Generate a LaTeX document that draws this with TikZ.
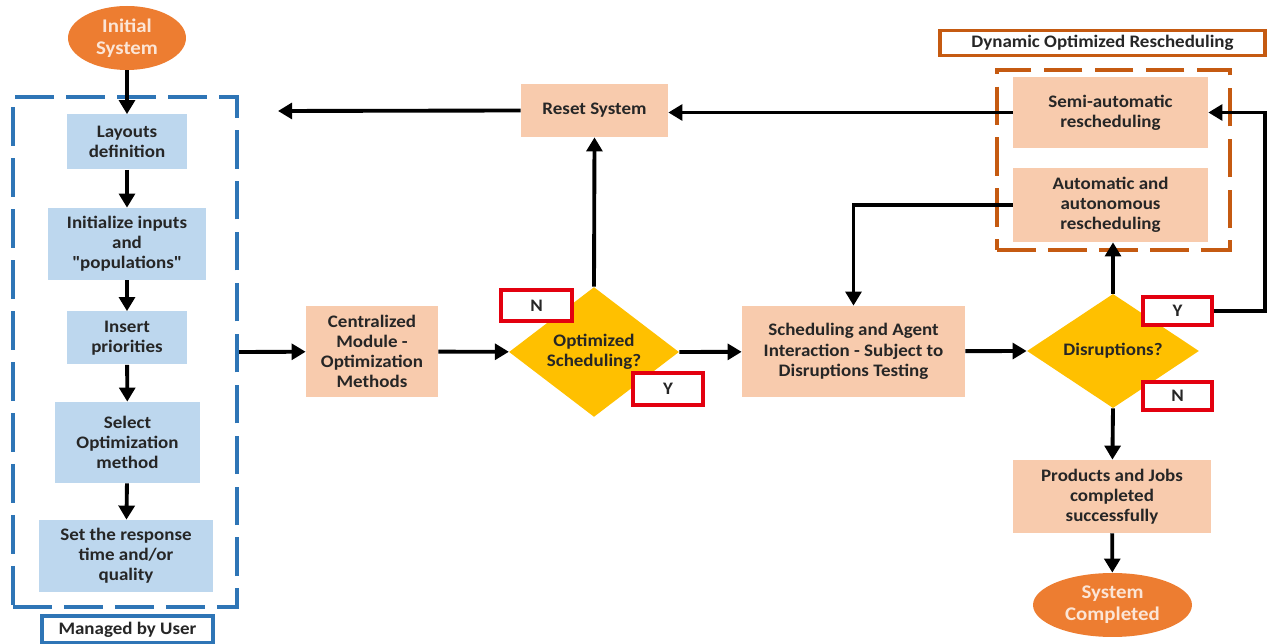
\documentclass[tikz,border=0pt]{standalone}
\usepackage{fontspec}
\setmainfont[FakeStretch=1.08]{Carlito}
\usepackage{tikz}
\usetikzlibrary{arrows.meta,shapes.geometric,positioning}

\definecolor{userfill}{HTML}{BDD7EE}
\definecolor{userline}{HTML}{2E75B6}
\definecolor{peach}{HTML}{F8CBAD}
\definecolor{gold}{HTML}{FFC000}
\definecolor{endfill}{HTML}{ED7D31}
\definecolor{endtext}{HTML}{FBE5D6}
\definecolor{rescline}{HTML}{C55A11}
\definecolor{answerline}{HTML}{E3000F}
\definecolor{textdark}{HTML}{262626}

\tikzset{
    every node/.style={
                align=center,
                inner sep=0pt,
                text=textdark,
                font=\bfseries\fontsize{10}{11.5}\selectfont
            },
        userstep/.style={
                fill=userfill
            },
        process/.style={
                fill=peach
            },
        decision/.style={
                diamond,
                fill=gold
            },
        terminal/.style={
                ellipse,
                fill=endfill,
                text=endtext,
                font=\bfseries\fontsize{11}{12.5}\selectfont
            },
        answer/.style={
                draw=answerline,
                line width=1.8pt,
                fill=white
            },
        caption/.style={
                draw,
                line width=1.8pt,
                fill=white
            },
        frame/.style={
                draw,
                line width=2.4pt,
                dash pattern=on 22pt off 7pt
            },
        flow/.style={
                draw=black,
                line width=2.2pt,
                -{Triangle[length=8pt,width=9pt]}
            },
}

\begin{document}
\begin{tikzpicture}[x=0.02cm,y=-0.02cm]
  \useasboundingbox (0,0) rectangle (1275,644);
  % Frames
  \node[frame,draw=userline,minimum width=4.48cm,minimum height=10.2cm] (userframe) at (125,352) {};
  \node[frame,draw=rescline,minimum width=4.66cm,minimum height=3.6cm] (resframe) at (1113.5,160) {};
  \node[caption,draw=userline,minimum width=3.42cm,minimum height=0.54cm] (managed) at (127.5,629.5) {Managed by User};
  \node[caption,draw=rescline,minimum width=6.5cm,minimum height=0.5cm] (dynamic) at (1102.5,43) {Dynamic Optimized Rescheduling};
  % Managed by user
  \node[terminal,minimum width=2.36cm,minimum height=1.28cm] (start) at (127,38) {Initial\\System};
  \node[userstep,minimum width=2.4cm,minimum height=1.1cm] (layouts) at (127,142) {Layouts\\definition};
  \node[userstep,minimum width=3.18cm,minimum height=1.44cm] (inputs) at (127,244) {Initialize inputs\\and\\\textquotedbl populations\textquotedbl};
  \node[userstep,minimum width=2.4cm,minimum height=1.06cm] (priorities) at (127,338) {Insert\\priorities};
  \node[userstep,minimum width=2.9cm,minimum height=1.62cm] (method) at (127.5,442.5) {Select\\Optimization\\method};
  \node[userstep,minimum width=3.48cm,minimum height=1.44cm] (response) at (126,556) {Set the response\\time and/or\\quality};
  % Optimization
  \node[process,minimum width=2.64cm,minimum height=1.82cm] (central) at (372,351.5) {Centralized\\Module -\\Optimization\\Methods};
  \node[decision,minimum width=3.4cm,minimum height=2cm] (optimized) at (594,352) {Optimized\\Scheduling?};
  \node[process,minimum width=2.94cm,minimum height=1.06cm] (reset) at (594.5,110.5) {Reset System};
  \node[process,minimum width=4.46cm,minimum height=1.82cm] (agents) at (853.5,351.5) {Scheduling and Agent\\Interaction - Subject to\\Disruptions Testing};
  % Rescheduling
  \node[decision,minimum width=3.44cm,minimum height=1.96cm] (disruptions) at (1113,351) {Disruptions?};
  \node[process,minimum width=3.9cm,minimum height=1.42cm] (semi) at (1110.5,112.5) {Semi-automatic\\rescheduling};
  \node[process,minimum width=3.9cm,minimum height=1.48cm] (auto) at (1110.5,205) {Automatic and\\autonomous\\rescheduling};
  \node[process,minimum width=3.96cm,minimum height=1.46cm] (products) at (1112,496.5) {Products and Jobs\\completed\\successfully};
  \node[terminal,minimum width=3.18cm,minimum height=1.28cm] (finish) at (1112.5,605) {System\\Completed};
  % Answers
  \node[answer,minimum width=1.42cm,minimum height=0.62cm] (optno) at (536.5,305.5) {N};
  \node[answer,minimum width=1.4cm,minimum height=0.64cm] (optyes) at (668,389) {Y};
  \node[answer,minimum width=1.38cm,minimum height=0.56cm] (disyes) at (1177.5,311) {Y};
  \node[answer,minimum width=1.38cm,minimum height=0.56cm] (disno) at (1177.5,396) {N};
  \coordinate (restart) at (278,111);
  \coordinate (yesturn) at (1265,311);
  % Connectors
  \draw[flow] (start) -- (layouts);
  \draw[flow] (layouts) -- (inputs);
  \draw[flow] (inputs) -- (priorities);
  \draw[flow] (priorities) -- (method);
  \draw[flow] (method) -- (response);
  \draw[flow] (userframe.east) -- (central);
  \draw[flow] (central) -- (optimized);
  \draw[flow] (optimized.north) -- (reset.south);
  \draw[flow] (reset.west) -- (restart);
  \draw[flow] (optimized.east) -- (agents);
  \draw[flow] (agents) -- (disruptions.west);
  \draw[flow] (semi.west) -- (reset.east |- semi.west);
  \draw[flow] (disruptions.north) -- (disruptions.north |- auto.south);
  \draw[flow] (disyes.east) -- (yesturn) |- (semi.east);
  \draw[flow] (auto.west) -| (agents.north);
  \draw[flow] (disruptions.south) -- (products);
  \draw[flow] (products) -- (finish);
\end{tikzpicture}
\end{document}
